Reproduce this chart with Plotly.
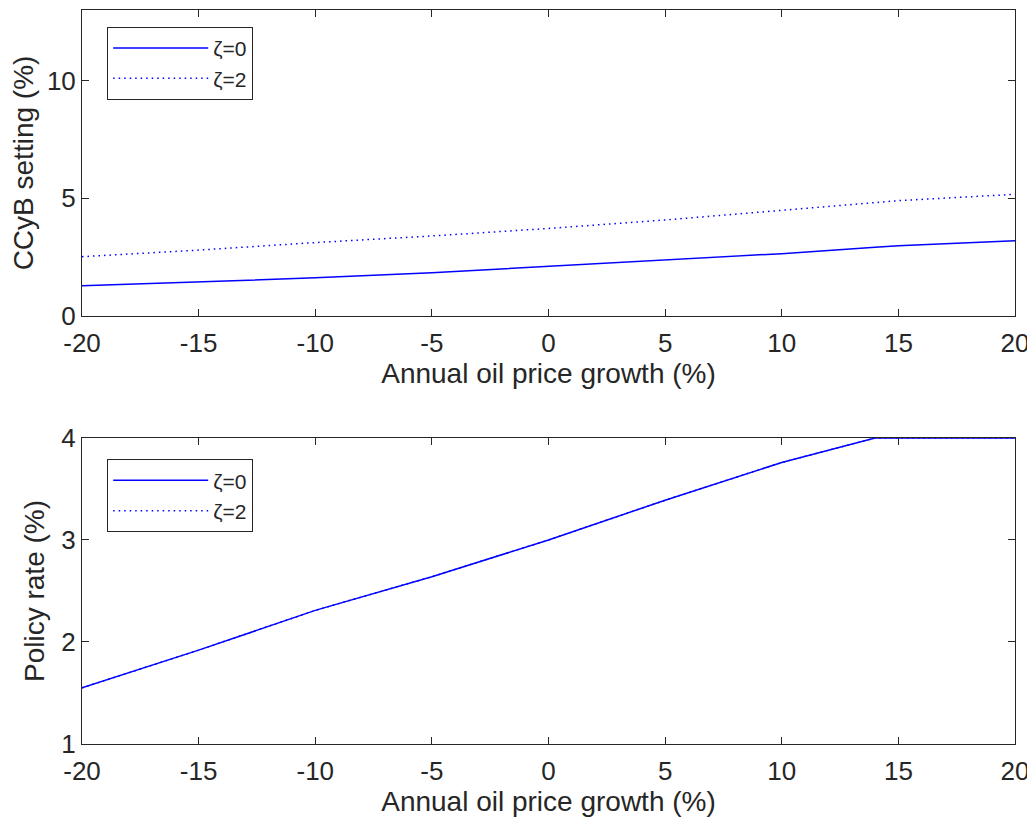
import plotly.graph_objects as go

growth = [-20, -15, -10, -5, 0, 5, 10, 14, 15, 20]
ccyb_z0 = [1.28, 1.44, 1.62, 1.84, 2.10, 2.36, 2.65, 2.92, 2.98, 3.20]
ccyb_z2 = [2.52, 2.80, 3.12, 3.40, 3.72, 4.08, 4.49, 4.83, 4.90, 5.17]
rate_z0 = [1.55, 1.92, 2.31, 2.64, 3.00, 3.39, 3.76, 4.00, 4.00, 4.00]
rate_z2 = [1.55, 1.92, 2.31, 2.64, 3.00, 3.39, 3.76, 4.00, 4.00, 4.00]

xticks = [-20, -15, -10, -5, 0, 5, 10, 15, 20]
xticklabels = ["-20", "-15", "-10", "-5", "0", "5", "10", "15", "20"]
ccyb_ticks = [0, 5, 10]
rate_ticks = [1, 2, 3, 4]

blue = "rgb(0,0,255)"
font = "Liberation Sans, Arial, sans-serif"
dark = "#262626"
dotted = "1.5px,4px"

fig = go.Figure()
fig.add_trace(go.Scatter(x=growth, y=ccyb_z0, mode="lines", name="ζ=0",
                         line=dict(color=blue, width=1.5), xaxis="x", yaxis="y", legend="legend"))
fig.add_trace(go.Scatter(x=growth, y=ccyb_z2, mode="lines", name="ζ=2",
                         line=dict(color=blue, width=1.5, dash=dotted), xaxis="x", yaxis="y", legend="legend"))
fig.add_trace(go.Scatter(x=growth, y=rate_z0, mode="lines", name="ζ=0",
                         line=dict(color=blue, width=1.5), xaxis="x2", yaxis="y2", legend="legend2"))
fig.add_trace(go.Scatter(x=growth, y=rate_z2, mode="lines", name="ζ=2",
                         line=dict(color=blue, width=1.5, dash=dotted), xaxis="x2", yaxis="y2", legend="legend2"))

axcommon = dict(showgrid=False, zeroline=False, showline=True, linecolor=dark, linewidth=1,
                mirror="ticks", ticks="inside", ticklen=7, tickcolor=dark, automargin=False,
                tickfont=dict(size=26, color=dark, family=font))
xextra = dict(ticklabelstandoff=4)
titlefont = dict(size=28, color=dark, family=font)

legcommon = dict(xanchor="left", yanchor="top", bgcolor="white",
                 bordercolor=dark, borderwidth=1, font=dict(size=21, family=font, color=dark),
                 tracegroupgap=0, itemwidth=95)

fig.update_layout(
    width=1027, height=809,
    paper_bgcolor="white", plot_bgcolor="white",
    margin=dict(l=74, r=20, t=2, b=73, autoexpand=False),
    font=dict(family=font, color=dark),
    xaxis=dict(domain=[0, 1], anchor="y", range=[-20, 20], tickvals=xticks, ticktext=xticklabels,
               title=dict(text="Annual oil price growth (%)", font=titlefont, standoff=6), **axcommon, **xextra),
    yaxis=dict(domain=[0.5831, 1.0], anchor="x", range=[0, 13], tickvals=ccyb_ticks,
               title=dict(text="CCyB setting (%)", font=titlefont, standoff=8), **axcommon),
    xaxis2=dict(domain=[0, 1], anchor="y2", range=[-20, 20], tickvals=xticks, ticktext=xticklabels,
                title=dict(text="Annual oil price growth (%)", font=titlefont, standoff=6), **axcommon, **xextra),
    yaxis2=dict(domain=[0, 0.4169], anchor="x2", range=[1, 4], tickvals=rate_ticks,
                title=dict(text="Policy rate (%)", font=titlefont, standoff=8), **axcommon),
    showlegend=True,
    legend=dict(x=0.027, y=0.977, **legcommon),
    legend2=dict(x=0.027, y=0.388, **legcommon),
)

fig.write_html("out.html")
